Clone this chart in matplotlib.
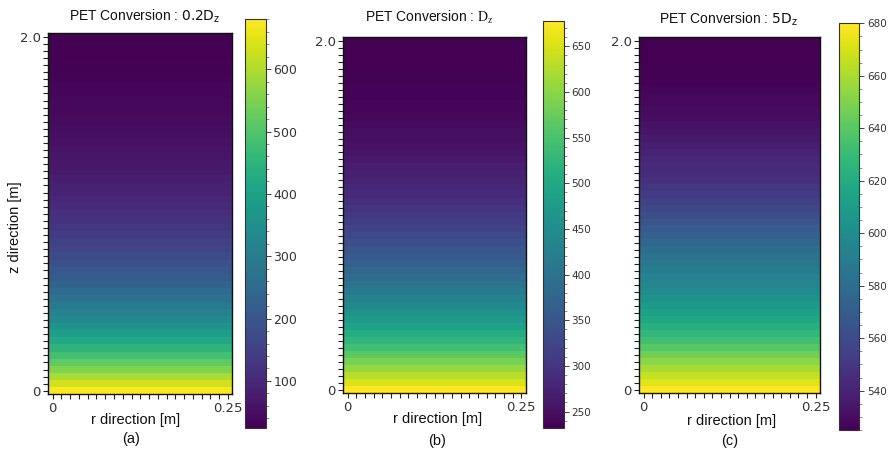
import numpy as np
import matplotlib
matplotlib.use("Agg")
import matplotlib.pyplot as plt
from matplotlib.ticker import MultipleLocator

# Axial conversion profiles, listed from z = 0 (bottom) to z = 2.0 m (top), dz = 0.04 m
conv_02Dz = [680, 638, 596, 557, 520, 484, 452, 421, 392, 365, 339, 316, 292, 271,
             253, 235, 219, 203, 189, 176, 163, 152, 141, 131, 121, 113, 106, 98, 91,
             85, 79, 73, 68, 64, 60, 56, 52, 49, 45, 42, 40, 38, 35, 33, 32, 30, 28.4,
             27.4, 26.6, 25.8, 25]
conv_1Dz = [678, 653, 631, 609, 588, 566, 545, 526, 508, 491, 473, 459, 444, 430,
            416, 404, 391, 380, 369, 359, 350, 341, 332, 324, 315, 308, 301, 294, 287,
            282, 277, 271, 266, 262, 258, 254, 251, 248, 245, 242, 240, 238.4, 236.8,
            235.6, 234.8, 234, 233.2, 233, 232.6, 232.2, 232]
conv_5Dz = [680, 672.6, 666.1, 659.8, 653.4, 647, 639.8, 633.2, 627.6, 622.8, 618,
            613.2, 609, 604.6, 600.2, 597, 593.8, 590.6, 587.4, 584.2, 581, 577, 573,
            569.4, 566, 562, 558.8, 555.6, 552.8, 550.2, 547, 545.4, 543.8, 542, 540,
            538, 536.4, 534.5, 532.5, 530.8, 530, 529.2, 528.4, 527.6, 526.8, 526.2,
            525.9, 525.6, 525.4, 525.2, 525]

n_r = 21                      # radial cells, r = 0 ... 0.25 m
z_labels = ["0", "2.0"]
r_labels = ["0", "0.25"]

titles = [r"PET Conversion : $0.2\mathrm{D_z}$",
          r"PET Conversion : $\mathrm{D_z}$",
          r"PET Conversion : $5\mathrm{D_z}$"]
title_math = ["dejavusans", "stix", "dejavusans"]
panel_tags = ["(a)", "(b)", "(c)"]
profiles = [conv_02Dz, conv_1Dz, conv_5Dz]
cbar_major = [100, 50, 20]
cbar_minor = [20, 10, 5]
cbar_fs = [9, 7.5, 7.5]

W, H = 888, 454
fig = plt.figure(figsize=(W / 100, H / 100), dpi=100)

def box(x0, y0, x1, y1):
    return [x0 / W, 1 - y1 / H, (x1 - x0) / W, (y1 - y0) / H]

heat_boxes = [box(48.3, 33.3, 232.3, 394.3),
              box(343.3, 37.3, 525.7, 393.3),
              box(639.3, 37.3, 820.0, 393.3)]
cbar_boxes = [box(245.0, 19.3, 265.7, 427.7),
              box(543.3, 20.7, 564.0, 428.0),
              box(839.3, 23.3, 859.3, 430.0)]
title_pos = [(145, 16), (429, 17), (728, 19)]
xlabel_pos = [(136, 420), (438, 419), (732, 421)]
tag_pos = [(131, 439), (437, 441), (730, 441)]

label_font = "Liberation Sans"
tick_color = "#333333"

for k in range(3):
    prof = np.asarray(profiles[k], dtype=float)
    grid = np.tile(prof[:, None], (1, n_r))
    ax = fig.add_axes(heat_boxes[k])
    im = ax.imshow(grid, cmap="viridis", origin="lower", aspect="auto",
                   interpolation="nearest", vmin=prof.min(), vmax=prof.max())
    nz = len(prof)
    ax.set_yticks(np.arange(nz))
    ax.set_yticklabels([z_labels[0]] + [""] * (nz - 2) + [z_labels[1]])
    ax.set_xticks(np.arange(n_r))
    ax.set_xticklabels([r_labels[0]] + [""] * (n_r - 2) + [r_labels[1]])
    ax.tick_params(length=3.5, width=0.8, color="#222222", labelsize=9.5,
                   labelcolor=tick_color, pad=2)
    for s in ax.spines.values():
        s.set_linewidth(1.0)
        s.set_color("#111111")

    cax = fig.add_axes(cbar_boxes[k])
    cb = fig.colorbar(im, cax=cax)
    cb.outline.set_linewidth(0.8)
    cb.outline.set_edgecolor("#333333")
    cax.yaxis.set_major_locator(MultipleLocator(cbar_major[k]))
    cax.yaxis.set_minor_locator(MultipleLocator(cbar_minor[k]))
    cax.tick_params(which="major", length=3.5, width=0.7, color="#444444",
                    labelsize=cbar_fs[k], labelcolor=tick_color, pad=2)
    cax.tick_params(which="minor", length=2, width=0.5, color="#666666")

    tx, ty = title_pos[k]
    fig.text(tx / W, 1 - ty / H, titles[k], ha="center", va="center",
             fontsize=10, family=label_font, math_fontfamily=title_math[k],
             color="#111111")
    lx, ly = xlabel_pos[k]
    fig.text(lx / W, 1 - ly / H, "r direction [m]", ha="center", va="center",
             fontsize=10.5, family=label_font, color="#111111")
    px, py = tag_pos[k]
    fig.text(px / W, 1 - py / H, panel_tags[k], ha="center", va="center",
             fontsize=10.5, family=label_font, color="#111111")

fig.text(15 / W, 1 - 227 / H, "z direction [m]", rotation=90, ha="center",
         va="center", fontsize=10.5, family=label_font, color="#111111")

fig.savefig("out.png", dpi=100, facecolor="white")
